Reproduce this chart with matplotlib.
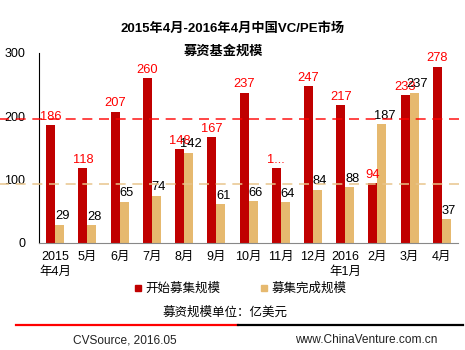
import numpy as np
import matplotlib
matplotlib.use("Agg")
import matplotlib.pyplot as plt
from matplotlib.lines import Line2D

plt.rcParams['font.family'] = ['Liberation Sans', 'Noto Sans CJK SC']

# données
mois = ["2015\n年4月", "5月", "6月", "7月", "8月", "9月", "10月", "11月",
        "12月", "2016\n年1月", "2月", "3月", "4月"]
debut = [186, 118, 207, 260, 148, 167, 237, 118, 247, 217, 94, 233, 278]
fin = [29, 28, 65, 74, 142, 61, 66, 64, 84, 88, 187, 237, 37]
labels_debut = ["186", "118", "207", "260", "148", "167", "237", "1...",
                "247", "217", "94", "233", "278"]

ROUGE = "#C00000"
OR = "#E6B96F"

fig = plt.figure(figsize=(4.65, 3.5), dpi=100)
ax = fig.add_axes([0.084, 0.306, 0.901, 0.543])

x = np.arange(len(mois))
w = 0.28
ax.bar(x - w / 2, debut, w, color=ROUGE)
ax.bar(x + w / 2, fin, w, color=OR)

for i in range(len(mois)):
    ax.text(x[i] - w / 2, debut[i] + 4, labels_debut[i], ha="center", va="bottom",
            color="#FF0000", fontsize=9.3)
    ax.text(x[i] + w / 2 + 0.08, fin[i] + 4, str(fin[i]), ha="center", va="bottom",
            color="black", fontsize=9.3)

# lignes de moyenne
moy_debut = np.mean(debut)
moy_fin = np.mean(fin)
ax.axhline(moy_debut + 3, xmin=-0.1, xmax=1.02, color="#FF0000", lw=1.2,
           ls=(0, (6, 4)), alpha=0.85, clip_on=False, zorder=3)
ax.axhline(moy_fin + 3, xmin=-0.1, xmax=1.02, color="#E8C48A", lw=1.2,
           ls=(0, (6, 4)), alpha=0.9, clip_on=False, zorder=3)

ax.set_xlim(-0.5, len(mois) - 0.5)
ax.set_ylim(0, 300)
ax.set_yticks([0, 100, 200, 300])
ax.set_xticks(x)
ax.set_xticklabels(mois, fontsize=9, linespacing=1.3)
ax.tick_params(axis="both", length=0, labelsize=9)
ax.tick_params(axis="y", pad=10)
ax.tick_params(axis="x", pad=6)
ax.spines["top"].set_visible(False)
ax.spines["right"].set_visible(False)
ax.spines["left"].set_color("black")
ax.spines["bottom"].set_color("#888888")

fig.text(0.5, 0.917, "2015年4月-2016年4月中国VC/PE市场", ha="center", va="center",
         fontsize=9.5, fontweight="bold")
fig.text(0.48, 0.852, "募资基金规模", ha="center", va="center",
         fontsize=9.5, fontweight="bold")

handles = [Line2D([], [], marker="s", ls="", color=ROUGE, markersize=5),
           Line2D([], [], marker="s", ls="", color=OR, markersize=5)]
fig.legend(handles, ["开始募集规模", "募集完成规模"], loc="center",
           bbox_to_anchor=(0.515, 0.174), ncol=2, frameon=False, fontsize=9,
           handletextpad=0.1, columnspacing=3.0, handlelength=1)

fig.text(0.485, 0.106, "募资规模单位：亿美元", ha="center", va="center", fontsize=9)

fig.add_artist(Line2D([0.035, 0.512], [0.072, 0.072], color="#FF0000", lw=1.6))
fig.add_artist(Line2D([0.512, 0.995], [0.072, 0.072], color="black", lw=1.6))

fig.text(0.157, 0.028, "CVSource, 2016.05", ha="left", va="center", fontsize=8.6, color="#222222")
fig.text(0.635, 0.028, "www.ChinaVenture.com.cn", ha="left", va="center", fontsize=8.6, color="#222222")

fig.savefig("out.png", dpi=100)
